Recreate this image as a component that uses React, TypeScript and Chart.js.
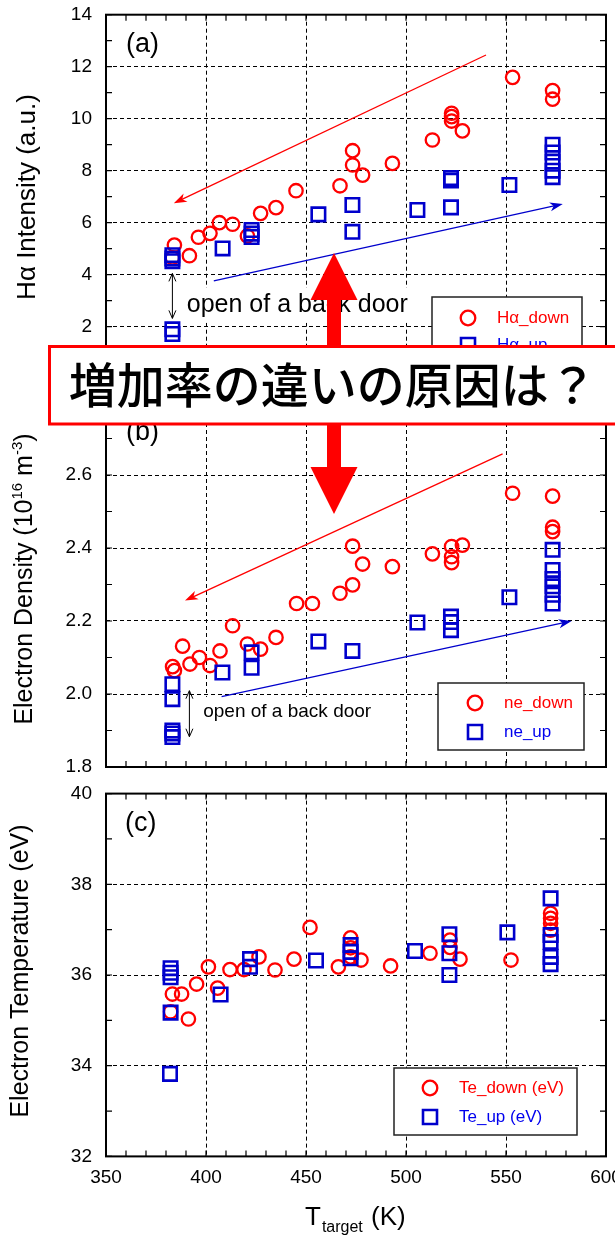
import React, { useEffect, useRef } from 'react';
import { Chart, registerables } from 'chart.js';

Chart.register(...registerables);

const FONT = '"Liberation Sans", Arial, Helvetica, sans-serif';
const RED = '#ff0000';
const BLUE = '#0000cc';
const BLUE_TXT = '#0000ee';

// ---------- Panel (a): Hα intensity ----------
const haDownT = [384.2, 383.2, 391.7, 396.2, 402, 406.7, 413.3, 420.7, 427.3, 435, 445, 467, 473.3, 473.3, 478.3, 493.2, 513.2, 522.8, 522.8, 522.8, 528.2, 553.3, 573.3, 573.3];
const haDownV = [5.14, 4.65, 4.73, 5.44, 5.59, 6.0, 5.94, 5.49, 6.36, 6.58, 7.23, 7.42, 8.77, 8.22, 7.83, 8.28, 9.18, 10.21, 10.08, 9.91, 9.53, 11.59, 11.08, 10.75];
const haUpT = [383.2, 383.2, 383.2, 383.2, 383.2, 408.3, 422.8, 422.8, 422.8, 456.2, 473.2, 473.2, 505.7, 522.5, 522.5, 522.5, 551.7, 573.3, 573.3, 573.3, 573.3, 573.3];
const haUpV = [4.75, 4.62, 4.52, 1.9, 1.72, 5.01, 5.72, 5.58, 5.45, 6.32, 6.68, 5.65, 6.49, 7.72, 7.62, 6.59, 7.45, 9.0, 8.7, 8.35, 8.0, 7.75];

// ---------- Panel (b): electron density ----------
const neDownT = [383.3, 384.2, 388.3, 392, 396.7, 402, 407, 413.3, 420.7, 427.3, 435, 445.3, 453.2, 467, 473.3, 473.3, 478.3, 493.2, 513.2, 522.8, 522.8, 522.8, 528.2, 553.3, 573.3, 573.3, 573.3];
const neDownV = [2.075, 2.064, 2.131, 2.082, 2.1, 2.078, 2.118, 2.187, 2.137, 2.123, 2.155, 2.248, 2.248, 2.276, 2.299, 2.405, 2.356, 2.349, 2.384, 2.404, 2.376, 2.36, 2.408, 2.55, 2.542, 2.457, 2.445];
const neUpT = [383.2, 383.2, 383.2, 383.2, 383.2, 408.2, 422.8, 422.8, 456.2, 473.2, 505.7, 522.5, 522.5, 522.5, 551.7, 573.3, 573.3, 573.3, 573.3, 573.3, 573.3];
const neUpV = [2.027, 1.986, 1.9, 1.892, 1.882, 2.059, 2.114, 2.072, 2.144, 2.118, 2.196, 2.212, 2.197, 2.175, 2.265, 2.395, 2.34, 2.315, 2.295, 2.272, 2.248];

// ---------- Panel (c): electron temperature ----------
const teDownT = [382.3, 383.2, 387.8, 391.2, 395.3, 401.2, 405.8, 412, 419, 426.5, 434.5, 444, 452, 466.2, 472.3, 472.3, 472.3, 477.5, 492.3, 512, 522, 522, 527, 552.5, 572.3, 572.3, 572.3, 572.3];
const teDownV = [35.19, 35.58, 35.58, 35.03, 35.8, 36.18, 35.71, 36.12, 36.12, 36.4, 36.11, 36.35, 37.05, 36.18, 36.82, 36.6, 36.4, 36.33, 36.2, 36.48, 36.77, 36.61, 36.35, 36.33, 37.36, 37.25, 37.14, 36.99];
const teUpT = [382.3, 382.3, 382.3, 382.3, 382, 407.3, 422, 422, 455, 472.3, 472.3, 472.3, 504.5, 521.7, 521.7, 521.7, 550.7, 572.3, 572.3, 572.3, 572.3, 572.3];
const teUpV = [36.15, 36.05, 35.95, 35.17, 33.82, 35.57, 36.35, 36.18, 36.32, 36.66, 36.51, 36.37, 36.53, 36.9, 36.48, 36.0, 36.94, 37.69, 36.88, 36.73, 36.4, 36.24];

// axis ranges / ticks
const xRange = [350, 600];
const xStep = 50;
const xMinor = 10;
const aRange = [0, 14];
const bRange = [1.8, 2.8];
const cRange = [32, 40];

const pts = (xs: number[], ys: number[]) => xs.map((x, i) => ({ x, y: ys[i] }));

function drawArrow(ctx: any, x1: number, y1: number, x2: number, y2: number, color: string) {
  const ang = Math.atan2(y2 - y1, x2 - x1);
  const hl = 13, hw = 4.5;
  ctx.save();
  ctx.strokeStyle = color;
  ctx.fillStyle = color;
  ctx.lineWidth = 1.3;
  ctx.beginPath();
  ctx.moveTo(x1, y1);
  ctx.lineTo(x2 - Math.cos(ang) * hl * 0.6, y2 - Math.sin(ang) * hl * 0.6);
  ctx.stroke();
  ctx.translate(x2, y2);
  ctx.rotate(ang);
  ctx.beginPath();
  ctx.moveTo(0, 0);
  ctx.lineTo(-hl, -hw);
  ctx.lineTo(-hl * 0.72, 0);
  ctx.lineTo(-hl, hw);
  ctx.closePath();
  ctx.fill();
  ctx.restore();
}

function drawDbl(ctx: any, x: number, ya: number, yb: number) {
  ctx.save();
  ctx.strokeStyle = '#000';
  ctx.lineWidth = 1;
  ctx.beginPath();
  ctx.moveTo(x, ya);
  ctx.lineTo(x, yb);
  ctx.moveTo(x - 3.5, ya + 8);
  ctx.lineTo(x, ya);
  ctx.lineTo(x + 3.5, ya + 8);
  ctx.moveTo(x - 3.5, yb - 8);
  ctx.lineTo(x, yb);
  ctx.lineTo(x + 3.5, yb - 8);
  ctx.stroke();
  ctx.restore();
}

function makeDeco(d: any) {
  return {
    id: 'deco',
    beforeDatasetsDraw(chart: any) {
      const ctx = chart.ctx;
      const xs = chart.scales.x, ys = chart.scales.y;
      const px = (v: number) => xs.getPixelForValue(v);
      const py = (v: number) => ys.getPixelForValue(v);
      ctx.save();
      for (const n of d.notes) {
        const [bx0, bx1, by0, by1] = n.bg;
        ctx.fillStyle = '#fff';
        ctx.fillRect(px(bx0), py(by1), px(bx1) - px(bx0), py(by0) - py(by1));
      }
      for (const n of d.notes) {
        ctx.fillStyle = '#000';
        ctx.font = `${n.size}px ${FONT}`;
        ctx.textBaseline = 'middle';
        ctx.textAlign = 'left';
        ctx.fillText(n.text, px(n.x), py(n.y));
      }
      for (const a of d.arrows) drawArrow(ctx, px(a.x1), py(a.y1), px(a.x2), py(a.y2), a.color);
      for (const b of d.dbl) drawDbl(ctx, px(b.x), py(b.y1), py(b.y2));
      ctx.restore();
    },
    afterDraw(chart: any) {
      const ctx = chart.ctx;
      const xs = chart.scales.x, ys = chart.scales.y;
      const px = (v: number) => xs.getPixelForValue(v);
      const py = (v: number) => ys.getPixelForValue(v);
      const { left, right, top, bottom } = chart.chartArea;
      const o = d.off;
      ctx.save();
      // minor ticks
      ctx.strokeStyle = '#000';
      ctx.lineWidth = 1.2;
      ctx.beginPath();
      for (let v = xRange[0]; v <= xRange[1] + 1e-9; v += xMinor) {
        const x = px(v);
        ctx.moveTo(x, top); ctx.lineTo(x, top + 6);
        ctx.moveTo(x, bottom); ctx.lineTo(x, bottom - 6);
      }
      const n = Math.round((ys.max - ys.min) / d.minorY);
      for (let i = 0; i <= n; i++) {
        const y = py(ys.min + i * d.minorY);
        ctx.moveTo(left, y); ctx.lineTo(left + 6, y);
        ctx.moveTo(right, y); ctx.lineTo(right - 6, y);
      }
      ctx.stroke();
      // frame
      ctx.lineWidth = 2;
      ctx.strokeRect(left, top, right - left, bottom - top);

      // legend
      const L = d.legend;
      ctx.fillStyle = '#fff';
      ctx.fillRect(L.x, L.y - o, L.w, L.h);
      ctx.strokeStyle = '#222';
      ctx.lineWidth = 1.5;
      ctx.strokeRect(L.x, L.y - o, L.w, L.h);
      for (const it of L.items) {
        const my = it.y - o;
        ctx.beginPath();
        if (it.style === 'circle') {
          ctx.strokeStyle = RED;
          ctx.lineWidth = 2.3;
          ctx.arc(L.mx, my, 7.3, 0, Math.PI * 2);
        } else {
          ctx.strokeStyle = BLUE;
          ctx.lineWidth = 2.6;
          ctx.rect(L.mx - 7, my - 7, 14, 14);
        }
        ctx.stroke();
        ctx.fillStyle = it.style === 'circle' ? RED : BLUE_TXT;
        ctx.font = `17px ${FONT}`;
        ctx.textAlign = 'left';
        ctx.textBaseline = 'middle';
        ctx.fillText(it.text, L.tx, my);
      }

      // panel tag
      ctx.fillStyle = '#000';
      ctx.font = `27px ${FONT}`;
      ctx.textAlign = 'left';
      ctx.textBaseline = 'middle';
      ctx.fillText(d.tag.text, d.tag.x, d.tag.y - o);

      // y title
      const T = d.yTitle;
      ctx.save();
      ctx.translate(T.bx, T.cy - o);
      ctx.rotate(-Math.PI / 2);
      let total = 0;
      for (const p of T.parts) {
        ctx.font = `${p.s}px ${FONT}`;
        total += ctx.measureText(p.t).width;
      }
      let x = -total / 2;
      ctx.textBaseline = 'alphabetic';
      ctx.textAlign = 'left';
      ctx.fillStyle = '#000';
      for (const p of T.parts) {
        ctx.font = `${p.s}px ${FONT}`;
        ctx.fillText(p.t, x, p.dy || 0);
        x += ctx.measureText(p.t).width;
      }
      ctx.restore();

      // x title
      if (d.xTitle) {
        ctx.fillStyle = '#000';
        ctx.textBaseline = 'alphabetic';
        ctx.textAlign = 'left';
        ctx.font = `26px ${FONT}`;
        ctx.fillText('T', 305, 1225 - o);
        const tw = ctx.measureText('T').width;
        ctx.font = `16px ${FONT}`;
        ctx.fillText('target', 305 + tw + 1, 1232 - o);
        ctx.font = `26px ${FONT}`;
        ctx.fillText('(K)', 371, 1225 - o);
      }
      ctx.restore();
    },
  };
}

function buildConfig(p: any) {
  const gridCommon = { color: '#000', lineWidth: 1, drawTicks: false };
  const borderCommon = { display: false, dash: [4, 3] };
  const tickFont = { family: FONT, size: 19 };
  return {
    type: 'scatter',
    data: {
      datasets: [
        {
          label: 'up',
          data: pts(p.upT, p.upV),
          pointStyle: 'rect',
          pointRadius: 9.5,
          pointHoverRadius: 9.5,
          borderColor: BLUE,
          backgroundColor: 'rgba(0,0,0,0)',
          borderWidth: 2.6,
          order: 0,
        },
        {
          label: 'down',
          data: pts(p.downT, p.downV),
          pointStyle: 'circle',
          pointRadius: 6.7,
          pointHoverRadius: 6.7,
          borderColor: RED,
          backgroundColor: 'rgba(0,0,0,0)',
          borderWidth: 2.3,
          order: 1,
        },
      ],
    },
    options: {
      responsive: false,
      animation: false,
      devicePixelRatio: 1,
      events: [],
      layout: { autoPadding: false, padding: { left: 0, right: 9, top: p.padTop, bottom: p.padBottom } },
      plugins: { legend: { display: false }, tooltip: { enabled: false } },
      scales: {
        x: {
          type: 'linear',
          min: xRange[0],
          max: xRange[1],
          ticks: { stepSize: xStep, display: p.showX, padding: 10, font: tickFont, color: '#000', maxRotation: 0, autoSkip: false },
          grid: gridCommon,
          border: borderCommon,
          afterFit: (s: any) => {
            s.height = p.xAxisHeight;
            s.paddingLeft = 0; s.paddingRight = 0; s.paddingTop = 0; s.paddingBottom = 0;
          },
        },
        y: {
          type: 'linear',
          min: p.yRange[0],
          max: p.yRange[1],
          ticks: {
            stepSize: p.yStep,
            padding: 14,
            font: tickFont,
            color: '#000',
            callback: (v: any) => Number(v).toFixed(p.decimals),
          },
          grid: gridCommon,
          border: borderCommon,
          afterFit: (s: any) => {
            s.width = 106;
            s.paddingLeft = 0; s.paddingRight = 0; s.paddingTop = 0; s.paddingBottom = 0;
          },
        },
      },
    },
    plugins: [makeDeco(p.deco)],
  };
}

const cfgA = () => buildConfig({
  downT: haDownT, downV: haDownV, upT: haUpT, upV: haUpV,
  yRange: aRange, yStep: 2, decimals: 0,
  padTop: 14.7, padBottom: 21.3, xAxisHeight: 0, showX: false,
  deco: {
    off: 0,
    minorY: 1,
    notes: [{ text: 'open of a back door', x: 390.4, y: 2.835, size: 25, bg: [388, 505, 2.15, 3.5] }],
    arrows: [
      { x1: 540, y1: 12.45, x2: 383.9, y2: 6.75, color: RED },
      { x1: 403.9, y1: 3.76, x2: 578.4, y2: 6.72, color: BLUE },
    ],
    dbl: [{ x: 383.2, y1: 4.05, y2: 2.32 }],
    legend: {
      x: 432, y: 297, w: 150, h: 70, mx: 468, tx: 497,
      items: [
        { style: 'circle', text: 'Hα_down', y: 318 },
        { style: 'rect', text: 'Hα_up', y: 345 },
      ],
    },
    tag: { text: '(a)', x: 126, y: 45 },
    yTitle: { parts: [{ t: 'Hα Intensity (a.u.)', s: 26 }], bx: 34.7, cy: 197 },
  },
});

const cfgB = () => buildConfig({
  downT: neDownT, downV: neDownV, upT: neUpT, upV: neUpV,
  yRange: bRange, yStep: 0.2, decimals: 1,
  padTop: 12, padBottom: 13, xAxisHeight: 0, showX: false,
  deco: {
    off: 390,
    minorY: 0.1,
    notes: [{ text: 'open of a back door', x: 398.6, y: 1.9515, size: 19, bg: [395, 493, 1.8, 1.992] }],
    arrows: [
      { x1: 548.3, y1: 2.658, x2: 389.5, y2: 2.256, color: RED },
      { x1: 407.8, y1: 1.993, x2: 582.8, y2: 2.2, color: BLUE },
    ],
    dbl: [{ x: 391.7, y1: 2.009, y2: 1.883 }],
    legend: {
      x: 438, y: 683, w: 146, h: 67, mx: 475, tx: 504,
      items: [
        { style: 'circle', text: 'ne_down', y: 703 },
        { style: 'rect', text: 'ne_up', y: 732 },
      ],
    },
    tag: { text: '(b)', x: 126, y: 433 },
    yTitle: {
      parts: [
        { t: 'Electron Density (10', s: 25 },
        { t: '16', s: 15, dy: -10 },
        { t: ' m', s: 25 },
        { t: '-3', s: 15, dy: -10 },
        { t: ')', s: 25 },
      ],
      bx: 32.3, cy: 579,
    },
  },
});

const cfgC = () => buildConfig({
  downT: teDownT, downV: teDownV, upT: teUpT, upV: teUpV,
  yRange: cRange, yStep: 2, decimals: 0,
  padTop: 13.6, padBottom: 0, xAxisHeight: 80.6, showX: true,
  deco: {
    off: 780,
    minorY: 1,
    notes: [],
    arrows: [],
    dbl: [],
    legend: {
      x: 394, y: 1068, w: 183, h: 67, mx: 430, tx: 459,
      items: [
        { style: 'circle', text: 'Te_down (eV)', y: 1088 },
        { style: 'rect', text: 'Te_up (eV)', y: 1117 },
      ],
    },
    tag: { text: '(c)', x: 125, y: 824 },
    yTitle: { parts: [{ t: 'Electron Temperature (eV)', s: 25 }], bx: 28, cy: 971 },
    xTitle: true,
  },
});

export default function App() {
  const refA = useRef<HTMLCanvasElement>(null);
  const refB = useRef<HTMLCanvasElement>(null);
  const refC = useRef<HTMLCanvasElement>(null);

  useEffect(() => {
    const charts = [
      new Chart(refA.current as any, cfgA() as any),
      new Chart(refB.current as any, cfgB() as any),
      new Chart(refC.current as any, cfgC() as any),
    ];
    return () => charts.forEach((c) => c.destroy());
  }, []);

  return (
    <div style={{ position: 'absolute', left: 0, top: 0, width: 615, height: 1237, overflow: 'hidden', background: '#fff' }}>
      <canvas ref={refA} width={615} height={400} style={{ position: 'absolute', left: 0, top: 0 }} />
      <canvas ref={refB} width={615} height={390} style={{ position: 'absolute', left: 0, top: 390 }} />
      <canvas ref={refC} width={615} height={457} style={{ position: 'absolute', left: 0, top: 780 }} />
      <svg width={615} height={1237} style={{ position: 'absolute', left: 0, top: 0, pointerEvents: 'none' }}>
        <polygon
          points="334,253 357.5,300 341,300 341,467 357.5,467 334,514 310.5,467 327,467 327,300 310.5,300"
          fill="#ff0000"
        />
        <rect x={49.5} y={346.5} width={600} height={77.5} fill="#fff" stroke="#ff0000" strokeWidth={3} />
        <text
          x={68.7}
          y={402.5}
          fontFamily='"Noto Sans CJK JP", "Noto Sans CJK SC", sans-serif'
          fontSize={48}
          fontWeight={500}
          fill="#000"
        >
          増加率の違いの原因は？
        </text>
      </svg>
    </div>
  );
}
